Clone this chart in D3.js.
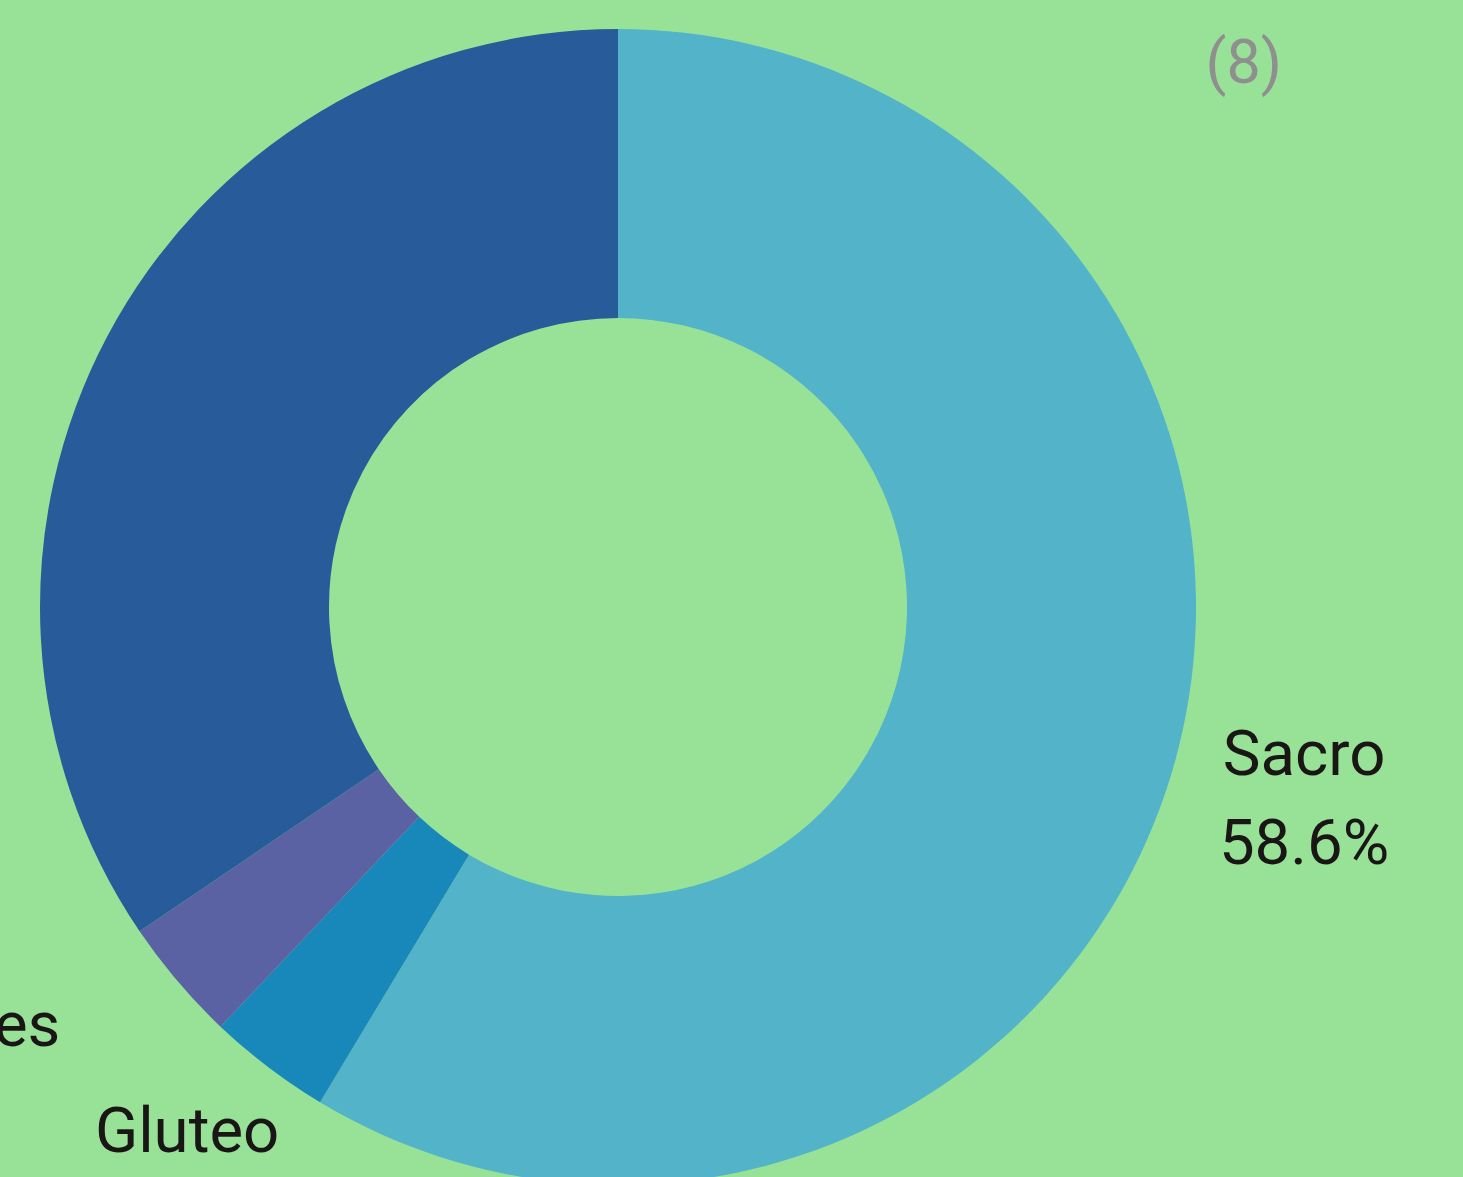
<!DOCTYPE html>
<html>
<head>
<meta charset="utf-8">
<script src="https://cdn.jsdelivr.net/npm/d3@7"></script>
<style>
  html, body { margin: 0; padding: 0; background: #98e298; overflow: hidden; }
  svg { display: block; font-family: Roboto, "Noto Sans", sans-serif; }
</style>
</head>
<body>
<div class="main"></div>
<script>
//// data
const categories = ['Sacro', 'Gluteo', 'Trocánteres', 'Talones'];
const counts = [17, 1, 1, 10];
const colors = ['#52b3c9', '#1888ba', '#5b62a3', '#275b99'];
const totalLabel = '(8)';

//// layout
const width = 1463;
const height = 1177;
const cx = 618;
const cy = 607;
const outerR = 578;
const innerR = 289;
const labelR = 712;
const fontSize = 63.5;
const lineGap = 89;

const data = categories.map((c, i) => ({ name: c, value: counts[i], color: colors[i] }));
const total = d3.sum(counts);
const fmt = d3.format('.1f');

const svg = d3.select('.main').append('svg')
  .attr('width', width)
  .attr('height', height);

svg.append('rect')
  .attr('width', width)
  .attr('height', height)
  .attr('fill', '#98e298');

const pie = d3.pie().sort(null).value(d => d.value);
const arc = d3.arc().innerRadius(innerR).outerRadius(outerR);
const labelArc = d3.arc().innerRadius(labelR).outerRadius(labelR);

const g = svg.append('g').attr('transform', `translate(${cx}, ${cy})`);

const arcs = pie(data);

g.selectAll('path')
  .data(arcs)
  .enter()
  .append('path')
  .attr('d', arc)
  .attr('fill', d => d.data.color);

// labels: name + percentage centred under each other;
// far-left labels are pushed left so the name ends near the label point
g.selectAll('text.label')
  .data(arcs)
  .enter()
  .append('text')
  .attr('class', 'label')
  .attr('font-size', fontSize)
  .attr('fill', '#1a1616')
  .attr('text-anchor', 'middle')
  .each(function(d) {
    const [x, y] = labelArc.centroid(d);
    const mid = (d.startAngle + d.endAngle) / 2;
    const t = d3.select(this);
    const name = t.append('tspan')
      .attr('x', 0)
      .attr('y', -22)
      .text(d.data.name);
    t.append('tspan')
      .attr('x', 0)
      .attr('y', -22 + lineGap)
      .text(fmt(d.data.value / total * 100) + '%');
    let tx = x;
    if (Math.sin(mid) < -0.7) {
      const w = name.node().getComputedTextLength();
      tx = x - 15 - w / 2;
    }
    t.attr('transform', `translate(${tx}, ${y})`);
  });

svg.append('text')
  .attr('x', 1282)
  .attr('y', 83)
  .attr('text-anchor', 'end')
  .attr('font-size', 61)
  .attr('fill', '#8f8f8f')
  .text(totalLabel);
</script>
</body>
</html>
